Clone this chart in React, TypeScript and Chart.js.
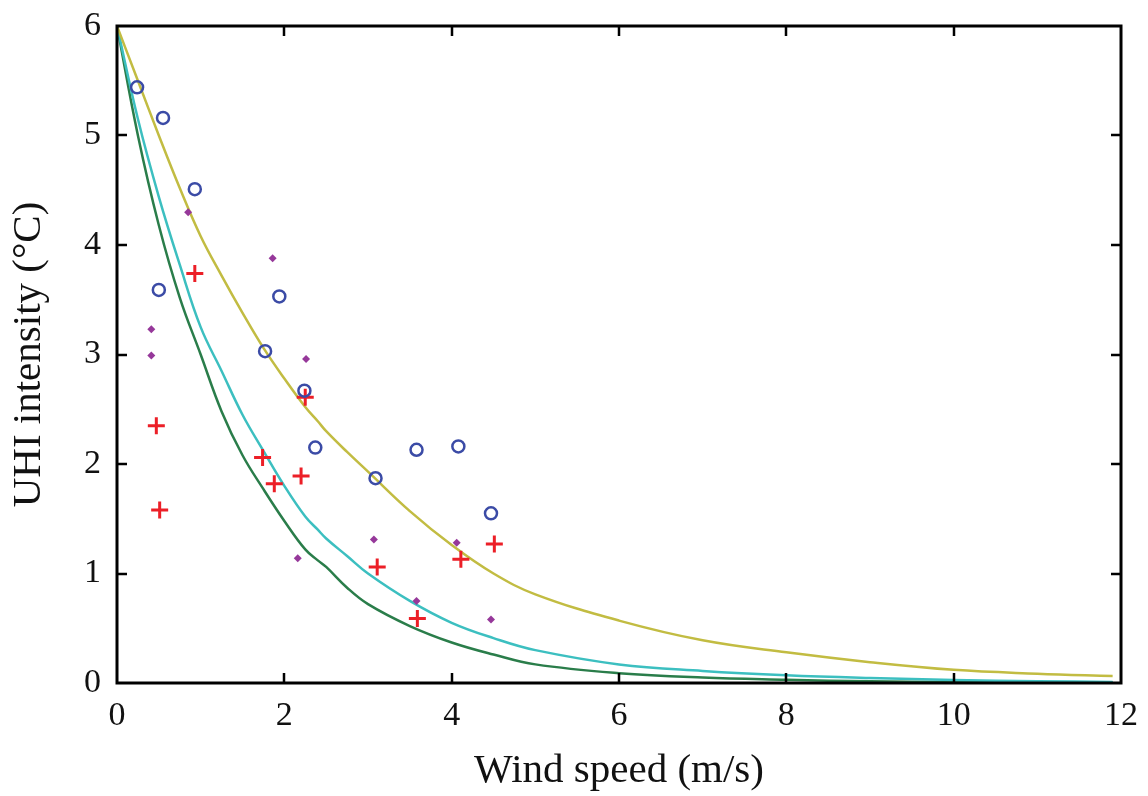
import { useEffect, useRef } from 'react';
import { Chart, registerables } from 'chart.js';

Chart.register(...registerables);

// Model curves
const curveX = [0, 0.25, 0.5, 0.75, 1, 1.25, 1.5, 1.75, 2, 2.25, 2.4, 2.5, 2.75, 3, 3.5, 4, 4.5, 5, 6, 7, 8, 9, 10, 11, 11.9];
const oliveY = [6.0, 5.5, 5.0, 4.52, 4.08, 3.72, 3.38, 3.06, 2.78, 2.52, 2.39, 2.3, 2.11, 1.93, 1.57, 1.26, 1.0, 0.81, 0.57, 0.39, 0.28, 0.19, 0.12, 0.085, 0.064];
const cyanY = [6.0, 5.15, 4.44, 3.82, 3.25, 2.85, 2.45, 2.12, 1.8, 1.52, 1.4, 1.32, 1.16, 1.0, 0.75, 0.55, 0.41, 0.3, 0.17, 0.11, 0.07, 0.045, 0.028, 0.016, 0.01];
const greenY = [6.0, 5.0, 4.18, 3.52, 3.0, 2.48, 2.08, 1.77, 1.48, 1.22, 1.12, 1.06, 0.87, 0.72, 0.52, 0.37, 0.26, 0.17, 0.09, 0.05, 0.03, 0.015, 0.01, 0.006, 0.005];

// Observations
const circleX = [0.24, 0.55, 0.93, 0.5, 1.94, 1.77, 2.24, 2.37, 3.09, 3.58, 4.08, 4.47];
const circleY = [5.44, 5.16, 4.51, 3.59, 3.53, 3.03, 2.67, 2.15, 1.87, 2.13, 2.16, 1.55];
const plusX = [0.93, 0.47, 0.51, 2.25, 1.74, 1.88, 2.2, 3.11, 4.11, 4.51, 3.59];
const plusY = [3.74, 2.35, 1.58, 2.61, 2.06, 1.82, 1.89, 1.06, 1.13, 1.27, 0.59];
const diamondX = [0.85, 1.86, 0.41, 0.41, 2.26, 2.16, 3.07, 4.06, 3.58, 4.47];
const diamondY = [4.3, 3.88, 3.23, 2.99, 2.96, 1.14, 1.31, 1.28, 0.75, 0.58];

// Axes
const xTicks = [0, 2, 4, 6, 8, 10, 12];
const yTicks = [0, 1, 2, 3, 4, 5, 6];
const xTitle = 'Wind speed (m/s)';
const yTitle = 'UHI intensity (°C)';

const pts = (xs: number[], ys: number[]) => xs.map((x, i) => ({ x, y: ys[i] }));

const FONT = '"Liberation Serif", "DejaVu Serif", serif';

const framePlugin = {
  id: 'frame',
  afterDraw(chart: any) {
    const { ctx, chartArea, scales } = chart;
    const { left, right, top, bottom } = chartArea;
    ctx.save();
    ctx.strokeStyle = '#000';
    ctx.lineWidth = 2.5;
    const tl = 10;
    ctx.beginPath();
    for (const v of xTicks) {
      if (v === xTicks[0] || v === xTicks[xTicks.length - 1]) continue;
      const px = Math.round(scales.x.getPixelForValue(v));
      ctx.moveTo(px, bottom);
      ctx.lineTo(px, bottom - tl);
      ctx.moveTo(px, top);
      ctx.lineTo(px, top + tl);
    }
    for (const v of yTicks) {
      if (v === yTicks[0] || v === yTicks[yTicks.length - 1]) continue;
      const py = Math.round(scales.y.getPixelForValue(v));
      ctx.moveTo(left, py);
      ctx.lineTo(left + tl, py);
      ctx.moveTo(right, py);
      ctx.lineTo(right - tl, py);
    }
    ctx.stroke();
    ctx.lineWidth = 3;
    ctx.strokeRect(left, top, right - left, bottom - top);
    ctx.restore();
  },
};

const lineDs = (label: string, ys: number[], color: string) => ({
  label,
  data: pts(curveX, ys),
  showLine: true,
  borderColor: color,
  borderWidth: 2.5,
  pointRadius: 0,
  tension: 0.4,
  order: 3,
});

export default function App() {
  const ref = useRef<HTMLCanvasElement>(null);
  useEffect(() => {
    document.body.style.margin = '0';
    document.body.style.overflow = 'hidden';
    const chart = new Chart(ref.current as HTMLCanvasElement, {
      type: 'scatter',
      data: {
        datasets: [
          lineDs('olive', oliveY, '#c2bc42'),
          lineDs('cyan', cyanY, '#3cbfc0'),
          lineDs('green', greenY, '#2a7d4a'),
          {
            label: 'circles',
            data: pts(circleX, circleY),
            pointStyle: 'circle',
            pointRadius: 6,
            borderColor: '#3b4ba6',
            backgroundColor: 'rgba(0,0,0,0)',
            borderWidth: 2.5,
            order: 1,
          },
          {
            label: 'plus',
            data: pts(plusX, plusY),
            pointStyle: 'cross',
            pointRadius: 8.5,
            borderColor: '#ec1f27',
            backgroundColor: '#ec1f27',
            borderWidth: 3,
            order: 1,
          },
          {
            label: 'diamond',
            data: pts(diamondX, diamondY),
            pointStyle: 'rectRot',
            pointRadius: 4,
            borderColor: '#96389a',
            backgroundColor: '#96389a',
            borderWidth: 0,
            order: 1,
          },
        ],
      } as any,
      options: {
        responsive: false,
        animation: false,
        layout: { autoPadding: false, padding: { top: 26, right: 27, left: 0, bottom: 0 } },
        plugins: { legend: { display: false }, tooltip: { enabled: false } },
        scales: {
          x: {
            type: 'linear',
            min: 0,
            max: 12,
            afterFit: (s: any) => {
              s.height = 113;
              s.paddingLeft = 0;
              s.paddingRight = 0;
            },
            afterBuildTicks: (s: any) => { s.ticks = xTicks.map((v) => ({ value: v })); },
            border: { display: false },
            grid: { display: false, drawTicks: false },
            ticks: { padding: 13, color: '#111', font: { family: FONT, size: 34 } },
            title: { display: true, text: xTitle, color: '#111', padding: 0, font: { family: FONT, size: 41 } },
          },
          y: {
            type: 'linear',
            min: 0,
            max: 6,
            afterFit: (s: any) => {
              s.width = 117;
              s.paddingTop = 0;
              s.paddingBottom = 0;
            },
            afterBuildTicks: (s: any) => { s.ticks = yTicks.map((v) => ({ value: v })); },
            border: { display: false },
            grid: { display: false, drawTicks: false },
            ticks: { padding: 16, color: '#111', font: { family: FONT, size: 34 } },
            title: { display: true, text: yTitle, color: '#111', padding: 5, font: { family: FONT, size: 41 } },
          },
        },
      } as any,
      plugins: [framePlugin],
    });
    return () => chart.destroy();
  }, []);
  return (
    <div style={{ width: 1148, height: 796 }}>
      <canvas ref={ref} width={1148} height={796} style={{ display: 'block' }} />
    </div>
  );
}
